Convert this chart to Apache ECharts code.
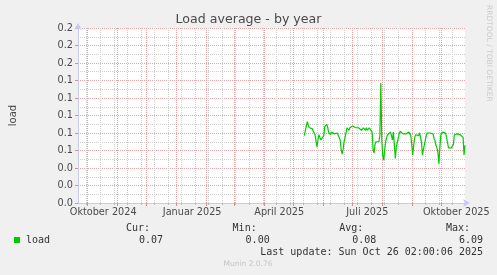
<!DOCTYPE html>
<html><head><meta charset="utf-8">
<script src="https://cdn.jsdelivr.net/npm/echarts@6/dist/echarts.min.js"></script>
<style>html,body{margin:0;padding:0;background:#f0f0f0;}#c{width:497px;height:275px;}</style>
</head><body><div id="c"></div>
<script>
// ---- data ----
const chartTitle = 'Load average - by year';
const yAxisName = 'load';
const axisStart = '2024-09-21';
const axisDays = 400;
const loadStart = '2025-05-13';
const loadValues = [
0.077,0.083,0.088,0.093,0.089,0.086,0.087,0.086,0.085,0.087,0.083,0.078,0.071,0.064,0.072,0.078,0.075,0.072,0.071,0.070,
0.077,0.087,0.089,0.090,0.087,0.081,0.079,0.078,0.081,0.081,0.080,0.079,0.078,0.079,0.080,0.080,0.079,0.072,0.061,0.056,
0.061,0.070,0.075,0.080,0.086,0.085,0.083,0.086,0.087,0.087,0.088,0.090,0.087,0.086,0.087,0.085,0.086,0.085,0.087,0.083,
0.082,0.086,0.085,0.083,0.086,0.083,0.082,0.086,0.087,0.085,0.081,0.061,0.057,0.067,0.070,0.071,0.071,0.070,0.077,0.137,
0.072,0.054,0.049,0.061,0.070,0.075,0.078,0.077,0.079,0.081,0.077,0.072,0.081,0.066,0.051,0.064,0.066,0.066,0.079,0.082,
0.083,0.080,0.079,0.080,0.079,0.079,0.078,0.080,0.081,0.079,0.077,0.079,0.055,0.066,0.075,0.078,0.080,0.080,0.077,0.080,
0.078,0.070,0.055,0.061,0.063,0.072,0.077,0.080,0.080,0.080,0.080,0.079,0.080,0.079,0.074,0.071,0.066,0.063,0.058,0.045,
0.063,0.078,0.080,0.081,0.080,0.080,0.080,0.081,0.078,0.063,0.063,0.064,0.063,0.064,0.067,0.078,0.080,0.080,0.079,0.077,
0.078,0.078,0.078,0.078,0.075,0.055,0.066
];
const labelDates = ['2024-10-17','2025-01-17','2025-04-17','2025-07-17','2025-10-17'];
const tickLabels = ['Oktober 2024','Januar 2025','April 2025','Juli 2025','Oktober 2025'];
const minorGridAnchor = '2025-06-23';
const minorGridStepDays = 14;
const yMin = 0, yMax = 0.2, yStep = 0.02;
const seriesName = 'load';
const statNames = ['Cur:','Min:','Avg:','Max:'];
const statValues = ['0.07','0.00','0.08','6.09'];
const lastUpdate = 'Last update: Sun Oct 26 02:00:06 2025';
const sideNote = 'RRDTOOL / TOBI OETIKER';
const footer = 'Munin 2.0.76';

// ---- build ----
const DAY = 86400000;
const t0 = Date.parse(axisStart + 'T00:00:00Z');
const dayOf = s => Math.round((Date.parse(s + 'T00:00:00Z') - t0) / DAY);
const loadOffset = dayOf(loadStart);
const seriesData = loadValues.map((v, k) => [loadOffset + k, v]);

const monthStarts = [], minorDays = [];
const anchorIdx = dayOf(minorGridAnchor);
for (let i = 0; i <= axisDays; i++) {
  const d = new Date(t0 + i * DAY);
  if (d.getUTCDate() === 1) monthStarts.push(i);
  if ((((i - anchorIdx) % minorGridStepDays) + minorGridStepDays) % minorGridStepDays === 0) minorDays.push(i);
}
const labelDays = labelDates.map(dayOf);
const labelMap = {};
labelDays.forEach((d, k) => labelMap[d] = tickLabels[k]);

const AX = '#c8c8f4', RED = '#e6a3a3', GRAY = '#cfcfcf', TXT = '#4a4a4a', MONO = '#333';
const baseX = { type: 'value', min: 0, max: axisDays, position: 'bottom', gridIndex: 0 };

const graphics = [
  { type: 'text', x: 248.5, y: 19.5, style: { text: chartTitle, font: '12.6px "DejaVu Sans"', fill: TXT, align: 'center', verticalAlign: 'middle' } },
  { type: 'text', x: 488.5, y: 5, rotation: -Math.PI / 2, style: { text: sideNote, font: '7.5px "DejaVu Sans"', fill: '#cccccc', align: 'left', verticalAlign: 'middle' } },
  { type: 'rect', shape: { x: 14, y: 237, width: 6, height: 6 }, style: { fill: '#00cc00' } },
  { type: 'text', x: 26, y: 240, style: { text: seriesName, font: '10px "DejaVu Sans Mono"', fill: MONO, align: 'left', verticalAlign: 'middle' } },
  { type: 'text', x: 483, y: 252, style: { text: lastUpdate, font: '10px "DejaVu Sans Mono"', fill: MONO, align: 'right', verticalAlign: 'middle' } },
  { type: 'text', x: 248, y: 264, style: { text: footer, font: '7.5px "DejaVu Sans"', fill: '#c4c4c4', align: 'center', verticalAlign: 'middle' } }
];
statNames.forEach((n, k) => {
  const right = 163 + k * 106.67;
  graphics.push({ type: 'text', x: right - 13, y: 228.5, style: { text: n, font: '10px "DejaVu Sans Mono"', fill: MONO, align: 'right', verticalAlign: 'middle' } });
  graphics.push({ type: 'text', x: right, y: 240, style: { text: statValues[k], font: '10px "DejaVu Sans Mono"', fill: MONO, align: 'right', verticalAlign: 'middle' } });
});

const chart = echarts.init(document.getElementById('c'), null, { renderer: 'canvas' });
chart.setOption({
  backgroundColor: '#f0f0f0',
  animation: false,
  grid: { left: 65, top: 28, width: 400, height: 175, show: true, backgroundColor: '#ffffff', borderWidth: 0, containLabel: false },
  xAxis: [
    Object.assign({}, baseX, {
      axisLine: { show: true, lineStyle: { color: AX, width: 1 }, symbol: ['none', 'arrow'], symbolSize: [6, 7], symbolOffset: [0, 5] },
      axisTick: { show: true, customValues: minorDays, length: 2, lineStyle: { color: '#bbbbbb' } },
      axisLabel: { show: false },
      splitLine: { show: true, lineStyle: { color: GRAY, type: [1, 1], width: 1 } }
    }),
    Object.assign({}, baseX, {
      axisLine: { show: false },
      axisTick: { show: true, customValues: monthStarts, length: 3, lineStyle: { color: '#e08c8c' } },
      axisLabel: { show: false },
      splitLine: { show: true, lineStyle: { color: RED, type: [1, 1], width: 1 } }
    }),
    Object.assign({}, baseX, {
      axisLine: { show: false },
      axisTick: { show: false, customValues: labelDays },
      splitLine: { show: false },
      axisLabel: { show: true, customValues: labelDays, formatter: v => labelMap[v] || '', color: TXT, fontFamily: 'DejaVu Sans', fontSize: 9.7, margin: 4, hideOverlap: false }
    })
  ],
  yAxis: {
    type: 'value', min: yMin, max: yMax, interval: yStep,
    name: yAxisName, nameLocation: 'middle', nameGap: 60,
    nameTextStyle: { color: TXT, fontFamily: 'DejaVu Sans', fontSize: 10 },
    axisLine: { show: true, lineStyle: { color: AX, width: 1 }, symbol: ['none', 'arrow'], symbolSize: [6, 7], symbolOffset: [0, 5] },
    axisTick: { show: true, length: 3, lineStyle: { color: '#e08c8c' } },
    axisLabel: { formatter: v => v.toFixed(1), color: TXT, fontFamily: 'DejaVu Sans', fontSize: 9.7, margin: 5 },
    splitLine: { show: true, lineStyle: { color: RED, type: [1, 1], width: 1 } },
    minorTick: { show: false, splitNumber: 2 },
    minorSplitLine: { show: true, lineStyle: { color: GRAY, type: [1, 1], width: 1 } }
  },
  series: [{
    name: seriesName, type: 'line', xAxisIndex: 0, yAxisIndex: 0, data: seriesData,
    symbol: 'none', lineStyle: { color: '#00cc00', width: 1.2 }, itemStyle: { color: '#00cc00' }, z: 5
  }],
  graphic: graphics
});
</script></body></html>
